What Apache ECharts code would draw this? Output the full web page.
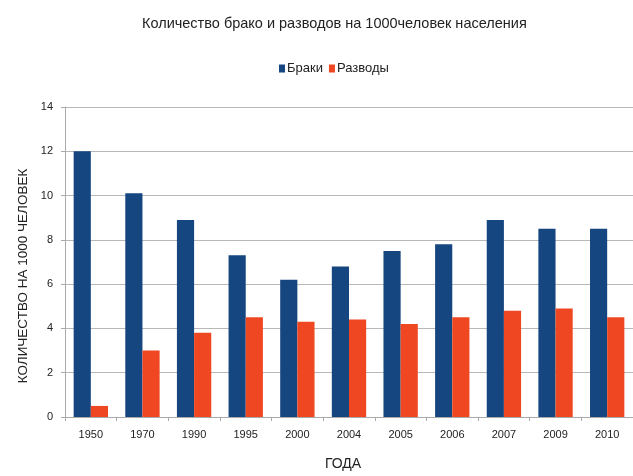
<!DOCTYPE html>
<html><head><meta charset="utf-8">
<script src="https://cdn.jsdelivr.net/npm/echarts@6/dist/echarts.min.js"></script>
<style>html,body{margin:0;padding:0;background:#fff}#c{width:633px;height:476px}</style>
</head><body><div id="c"></div>
<script>
const categories = ['1950','1970','1990','1995','2000','2004','2005','2006','2007','2009','2010'];
const marriages = [12, 10.1, 8.9, 7.3, 6.2, 6.8, 7.5, 7.8, 8.9, 8.5, 8.5];
const divorces = [0.5, 3.0, 3.8, 4.5, 4.3, 4.4, 4.2, 4.5, 4.8, 4.9, 4.5];
const seriesNames = ['Браки', 'Разводы'];
const FONT = '"Liberation Sans", Arial, sans-serif';
const chart = echarts.init(document.getElementById('c'));
chart.setOption({
  backgroundColor: '#ffffff',
  animation: false,
  title: {
    text: 'Количество брако и разводов на 1000человек населения',
    left: 137, top: 11,
    textStyle: {fontFamily: FONT, fontSize: 14.5, fontWeight: 'normal', color: '#222'}
  },
  legend: {
    data: seriesNames, top: 57, left: 274,
    itemWidth: 6, itemHeight: 8, itemGap: 6,
    icon: 'rect',
    textStyle: {fontFamily: FONT, fontSize: 13, color: '#222', padding: [0,0,0,-3]}
  },
  grid: {left: 65, top: 107, width: 575, height: 313, containLabel: false},
  xAxis: {
    type: 'category', data: categories,
    name: 'ГОДА', nameLocation: 'middle', nameGap: 40,
    nameTextStyle: {fontFamily: FONT, fontSize: 14, color: '#222', padding: [0, 12, 0, 0]},
    axisLine: {lineStyle: {color: '#aaaaaa'}},
    axisTick: {show: true, length: 4, lineStyle: {color: '#aaaaaa'}},
    axisLabel: {fontFamily: FONT, fontSize: 11, color: '#222', margin: 12}
  },
  yAxis: {
    type: 'value', min: 0, max: 14, interval: 2,
    name: 'КОЛИЧЕСТВО НА 1000 ЧЕЛОВЕК', nameLocation: 'middle', nameGap: 31,
    nameTextStyle: {fontFamily: FONT, fontSize: 13.5, color: '#222', padding: [0, 0, 0, -28]},
    axisLine: {show: true, lineStyle: {color: '#aaaaaa'}},
    axisTick: {show: true, length: 4, lineStyle: {color: '#aaaaaa'}},
    axisLabel: {fontFamily: FONT, fontSize: 11, color: '#222', margin: 12},
    splitLine: {lineStyle: {color: '#b8b8b8'}}
  },
  series: [
    {name: seriesNames[0], type: 'bar', data: marriages, barGap: '0%', barCategoryGap: '33.5%',
     itemStyle: {color: '#15467f'}},
    {name: seriesNames[1], type: 'bar', data: divorces,
     itemStyle: {color: '#ef4722'}}
  ]
});
</script></body></html>
